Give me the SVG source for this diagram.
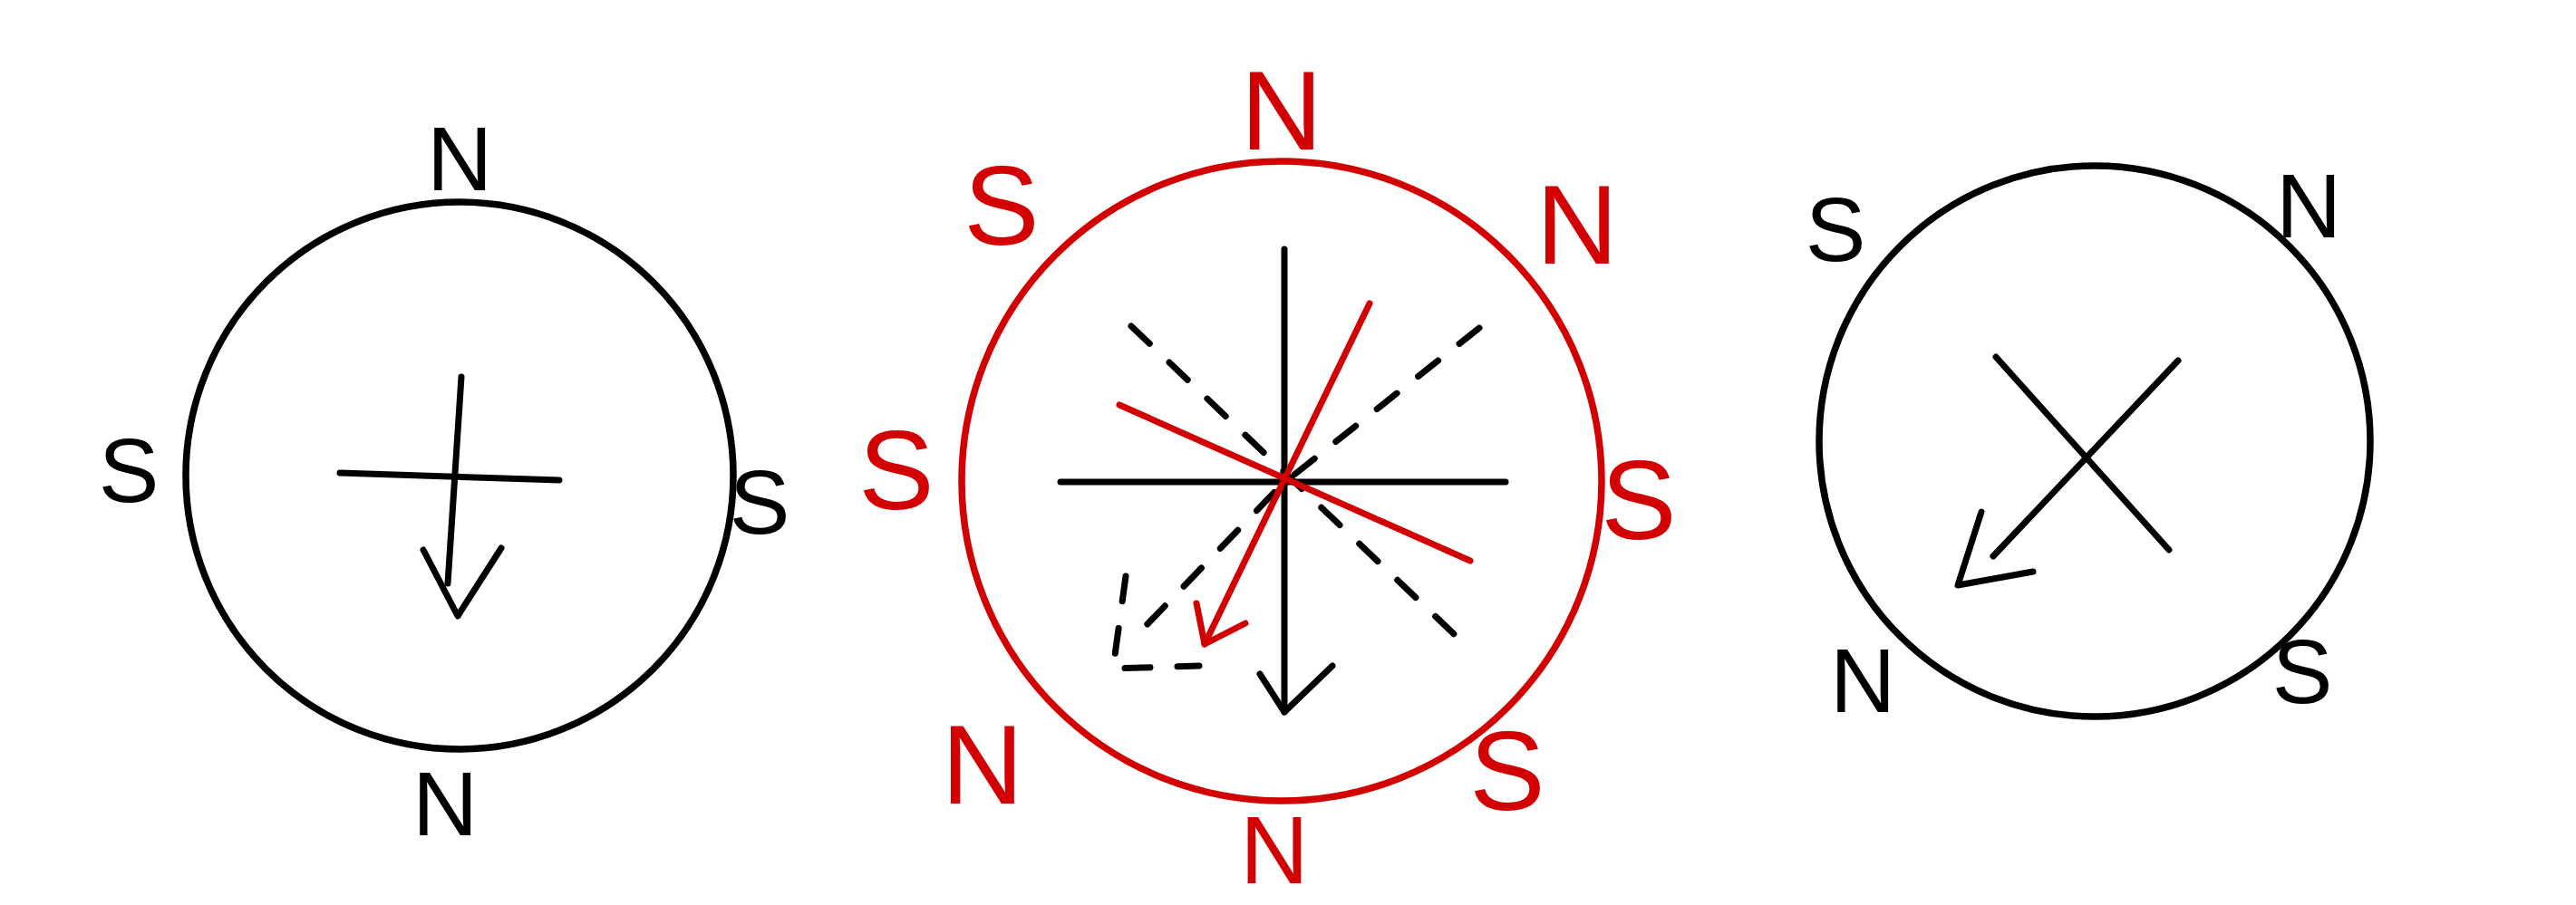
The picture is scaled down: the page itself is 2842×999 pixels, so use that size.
<svg xmlns="http://www.w3.org/2000/svg" width="2842" height="999" viewBox="0 0 2842 999">
<style>
.bg{fill:#ffffff}
.ring{fill:none;stroke-width:7.5}
.blk{stroke:#000000}
.red{stroke:#d20000}
.ln{fill:none;stroke-width:7;stroke-linecap:round;stroke-linejoin:round}
.dash{fill:none;stroke:#000000;stroke-width:7;stroke-linecap:round;stroke-dasharray:28 30}
.lbl{font-family:"Liberation Sans",Arial,sans-serif;text-anchor:middle}
.lb{fill:#000000;font-size:100px}
.lr{fill:#d20000;font-size:125px}
</style>
<rect class="bg" x="0" y="0" width="2842" height="999"/>
<g id="compass-left">
<circle class="ring blk" cx="507" cy="525" r="302"/>
<text class="lbl lb" x="507" y="210">N</text>
<text class="lbl lb" x="491" y="922">N</text>
<text class="lbl lb" x="142" y="554">S</text>
<text class="lbl lb" x="838" y="589">S</text>
</g>
<g id="compass-middle">
<circle class="ring red" cx="1414" cy="531" r="353"/>
<text class="lbl lr" x="1414" y="165">N</text>
<text class="lbl lr" x="1105" y="270">S</text>
<text class="lbl lr" x="1740" y="291">N</text>
<text class="lbl lr" x="989" y="562">S</text>
<text class="lbl lr" x="1808" y="595">S</text>
<text class="lbl lr" x="1084" y="887">N</text>
<text class="lbl lr" x="1663" y="894">S</text>
<text class="lbl lr" x="1406" y="975" style="font-size:105px">N</text>
</g>
<g id="compass-right">
<circle class="ring blk" cx="2311" cy="487" r="304"/>
<text class="lbl lb" x="2025" y="288">S</text>
<text class="lbl lb" x="2547" y="262">N</text>
<text class="lbl lb" x="2055" y="786">N</text>
<text class="lbl lb" x="2540" y="776">S</text>
</g>
<g id="connectors">
<line class="ln blk" x1="375" y1="522" x2="617" y2="530"/>
<line class="ln blk" x1="509" y1="416" x2="494" y2="644"/>
<polyline class="ln blk" points="467,607 505,680 553,605"/>
<line class="ln blk" x1="1170" y1="532" x2="1661" y2="532"/>
<line class="ln blk" x1="1417" y1="275" x2="1417" y2="786"/>
<polyline class="ln blk" points="1390,744 1417,786 1470,735"/>
<line class="dash" x1="1248" y1="360" x2="1621" y2="716"/>
<polyline class="dash" points="1632,362 1414,535 1262,693"/>
<polyline class="dash" points="1242,636 1228,738 1323,735"/>
<line class="ln red" x1="1511" y1="335" x2="1329" y2="711"/>
<polyline class="ln red" points="1320,666 1329,711 1374,688"/>
<line class="ln red" x1="1235" y1="447" x2="1622" y2="619"/>
<line class="ln blk" x1="2202" y1="394" x2="2393" y2="607"/>
<line class="ln blk" x1="2403" y1="398" x2="2199" y2="614"/>
<polyline class="ln blk" points="2186,565 2160,646 2243,631"/>
</g>
</svg>
